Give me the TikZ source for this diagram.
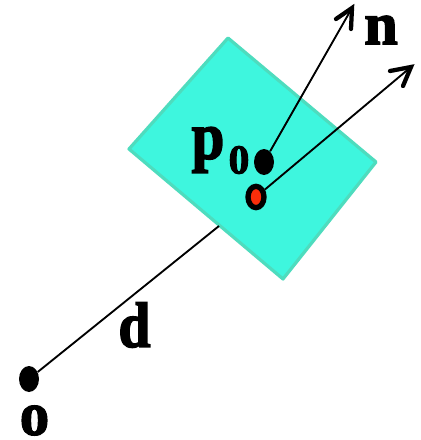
\documentclass[tikz,border=0pt]{standalone}
\usepackage{fontspec}
\setmainfont{Liberation Serif}[BoldFeatures={FakeBold=2.5}]
\usetikzlibrary{shapes.geometric}
\definecolor{planefill}{RGB}{62,246,222}
\definecolor{planeedge}{RGB}{78,220,190}
\definecolor{hitred}{RGB}{250,45,10}
\tikzset{
 lbl/.style={font=\bfseries\fontsize{45}{45}\selectfont,inner sep=0pt,text=black},
 dotn/.style={ellipse,fill=black,inner sep=0pt,minimum width=15pt,minimum height=19.5pt},
 ray/.style={draw=black,line width=1.4pt},
 barb/.style={draw=black,line width=3.2pt,line cap=round,line join=miter}
}
\begin{document}
\begin{tikzpicture}[x=0.75pt,y=-0.75pt]
\useasboundingbox (0,0) rectangle (421,440);
\fill[white] (0,0) rectangle (421,440);
\draw[draw=planeedge,fill=planefill,line width=2.4pt,line join=round] (228,38)--(376,162)--(283,279)--(129,149)--cycle;
\node[dotn] (o) at (29,379) {};
\coordinate (hid) at (219,226);
\coordinate (a1) at (411,67);
\coordinate (a2) at (352,8);
\coordinate (b1a) at (390,71);
\coordinate (b1b) at (403,86);
\coordinate (b2a) at (336,19);
\coordinate (b2b) at (351,29);
\draw[ray] (o)--(hid);
\node[dotn] (p) at (264,162) {};
\draw[ray] (p)--(a2);
\draw[barb] (b2a)--(a2)--(b2b);
\node[ellipse,draw=black,fill=hitred,line width=4pt,minimum width=12pt,minimum height=16pt,inner sep=0pt] (r) at (256,197) {};
\draw[ray] (r)--(a1);
\draw[barb] (b1a)--(a1)--(b1b);
\node[lbl] (ln) at (381,30) {n};
\node[lbl,font=\bfseries\fontsize{50}{50}\selectfont,xscale=.88] (lp) at (208,150) {p};
\node[font=\bfseries\fontsize{31}{31}\selectfont,inner sep=0pt] (lz) at (239,160) {0};
\node[lbl,font=\bfseries\fontsize{48}{48}\selectfont,xscale=.9] (ld) at (134.5,325) {d};
\node[lbl,font=\bfseries\fontsize{46}{46}\selectfont,xscale=.95] (lo) at (34.5,420.5) {o};
\end{tikzpicture}
\end{document}
